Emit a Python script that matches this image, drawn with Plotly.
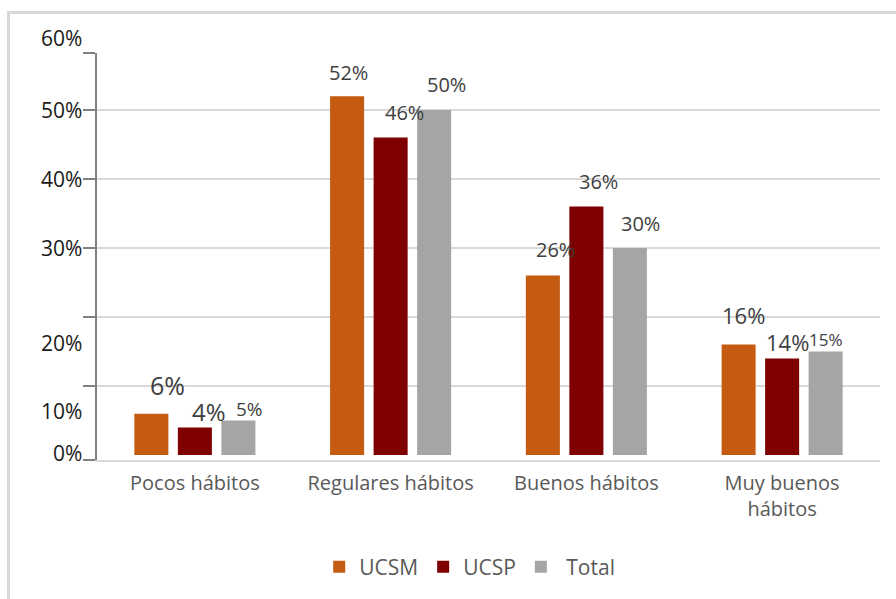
import plotly.graph_objects as go

# Data
categories = ["Pocos hábitos", "Regulares hábitos", "Buenos hábitos", "Muy buenos<br>hábitos"]
ucsm = [6, 52, 26, 16]
ucsp = [4, 46, 36, 14]
total = [5, 50, 30, 15]

series_names = ["UCSM", "UCSP", "\u00a0Total"]
series_colors = ["#c55a11", "#7f0000", "#a5a5a5"]

# y axis tick labels (as they sit in the reference image)
y_label_text = ["0%", "10%", "20%", "30%", "40%", "50%", "60%"]
y_label_pos = [0.3, 6.4, 16.2, 30, 40, 50, 60.4]

# data label styling per bar: font size, x nudge (px), lift above bar (px)
label_sizes = [
    [25, 20, 20, 22],
    [24, 20, 20, 22],
    [19, 20, 20, 17],
]
label_dx = [
    [16, 1, 13, 5],
    [14, 14, 12, 5],
    [11, 12, 11, 0],
]
label_dy = [
    [29, 24, 26, 30],
    [16, 25, 25, 16],
    [12, 26, 25, 12],
]

W, H = 896, 599
M_L, M_R, M_T, M_B = 97, 16, 53, 139
Y_RANGE = [-0.72, 58.26]
FONT = "Open Sans"

plot_w = W - M_L - M_R
plot_h = H - M_T - M_B
slot_px = plot_w / len(categories) * (1 - 0.333) / 3


def y_to_paper(v):
    return (v - Y_RANGE[0]) / (Y_RANGE[1] - Y_RANGE[0])


fig = go.Figure()
values = [ucsm, ucsp, total]
for i, (name, vals, color) in enumerate(zip(series_names, values, series_colors)):
    fig.add_trace(go.Bar(
        x=categories,
        y=vals,
        name=name,
        marker=dict(color=color, line=dict(width=0)),
        hoverinfo="skip",
    ))
    for j, v in enumerate(vals):
        fig.add_annotation(
            x=categories[j], y=v,
            text=f"{v}%",
            showarrow=False,
            xanchor="center", yanchor="middle",
            xshift=(i - 1) * slot_px + label_dx[i][j],
            yshift=label_dy[i][j],
            font=dict(family=FONT, size=label_sizes[i][j], color="#404040"),
        )

# y tick labels, placed beside the axis like in the source image
for txt, pos in zip(y_label_text, y_label_pos):
    fig.add_annotation(
        xref="paper", yref="paper",
        x=0, y=y_to_paper(pos),
        xanchor="right", yanchor="middle",
        xshift=-13,
        text=txt, showarrow=False,
        font=dict(family=FONT, size=21, color="#1a1a1a"),
    )

# outer frame of the picture
fig.add_shape(
    type="rect", xref="paper", yref="paper",
    x0=(8.5 - M_L) / plot_w, x1=(W + 20 - M_L) / plot_w,
    y0=(H - M_B - (H + 20)) / plot_h, y1=(H - M_B - 12.5) / plot_h,
    line=dict(color="#d9d9d9", width=3),
    layer="below",
)

fig.update_layout(
    width=W, height=H,
    margin=dict(l=M_L, r=M_R, t=M_T, b=M_B),
    paper_bgcolor="white",
    plot_bgcolor="white",
    barmode="group",
    bargap=0.333,
    bargroupgap=0.218,
    font=dict(family=FONT, color="#595959"),
    showlegend=True,
    legend=dict(
        orientation="h",
        x=0.476, xanchor="center",
        y=-0.263, yanchor="middle",
        font=dict(family=FONT, size=21, color="#595959"),
        itemwidth=30,
    ),
    xaxis=dict(
        showline=True, linecolor="#d9d9d9", linewidth=2,
        ticks="", showgrid=False,
        ticklabelstandoff=4,
        tickfont=dict(family=FONT, size=20, color="#595959"),
    ),
    yaxis=dict(
        range=Y_RANGE,
        tickvals=[Y_RANGE[0], 10, 20, 30, 40, 50, Y_RANGE[1]],
        ticktext=[""] * 7,
        ticks="outside", ticklen=12, tickwidth=2, tickcolor="#808080",
        showline=True, linecolor="#808080", linewidth=2,
        showgrid=True, gridcolor="#d9d9d9", gridwidth=2,
        zeroline=False,
    ),
)

# drop the page's default body margin so the figure sits at the window's corner
fig.write_html(
    "out.html",
    config={"displayModeBar": False},
    post_script="document.body.style.margin='0';",
)
